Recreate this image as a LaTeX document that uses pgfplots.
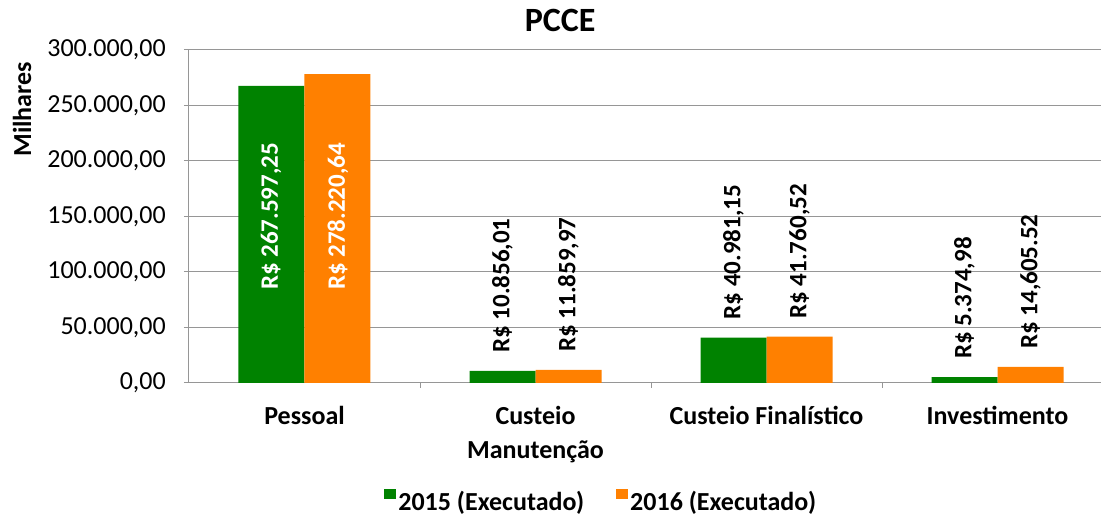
\documentclass[border=0pt]{standalone}
\usepackage{pgfplots}
\pgfplotsset{compat=1.18}
\usepackage{fontspec}
\setmainfont{Carlito}
\definecolor{g15}{RGB}{0,130,0}
\definecolor{o16}{RGB}{255,128,0}
\definecolor{gridc}{RGB}{150,150,150}
\begin{document}
\begin{tikzpicture}
\begin{axis}[
  name=ax,
  scale only axis,
  width=912pt, height=333pt,
  xmin=-0.5, xmax=3.448,
  ymin=0, ymax=300000,
  ybar=0pt, bar width=66pt,
  axis x line*=bottom, axis y line*=left,
  axis line style={gridc, line width=1pt, -},
  ymajorgrids, grid style={gridc, line width=1pt},
  ytick={0,50000,...,300000},
  scaled y ticks=false,
  /pgf/number format/fixed,
  /pgf/number format/fixed zerofill,
  /pgf/number format/precision=2,
  /pgf/number format/use comma,
  /pgf/number format/1000 sep={.},
  /pgf/number format/assume math mode=true,
  yticklabel style={font=\fontsize{26}{30}\selectfont, inner sep=0pt, anchor=east, xshift=-18pt},
  tick align=outside, major tick length=5pt,
  ytick style={draw=gridc, line width=1pt},
  xtick={0,1,2,3},
  xticklabels={Pessoal, Custeio\\Manutenção, Custeio Finalístico, Investimento},
  xticklabel style={font=\fontsize{26}{34}\selectfont\bfseries, align=center, inner sep=0pt, anchor=north, yshift=-18pt},
  xtick style={draw=none},
  extra x ticks={0.5,1.5,2.5},
  extra x tick labels={},
  extra x tick style={xtick style={draw=gridc, line width=1pt}},
  title={PCCE},
  title style={font=\fontsize{34}{40}\selectfont\bfseries, at={(axis description cs:0.407,1)}, anchor=base, yshift=12pt, inner sep=0pt},
  ylabel={Milhares},
  ylabel style={font=\fontsize{26}{30}\selectfont\bfseries, at={(axis description cs:-0.183,0.822)}, anchor=center, inner sep=0pt},
  legend style={draw=none, fill=none, at={(axis description cs:0.452,-0.355)}, anchor=center, legend columns=2,
    font=\fontsize{26}{30}\selectfont\bfseries, inner sep=0pt,
    /tikz/every even column/.append style={column sep=30pt}},
  legend image code/.code={\fill[#1, draw=none] (0pt,3pt) rectangle (12pt,13pt);},
  nodes near coords={\pgfplotspointmeta},
  point meta=explicit symbolic,
  nodes near coords style={font=\fontsize{25}{30}\selectfont\bfseries, black, rotate=90, anchor=west, inner sep=0pt, xshift=18pt},
  clip=false,
]
\addplot[fill=g15, draw=none] coordinates {
  (0,267597.25) []
  (1,10856.01) [R\$ 10.856,01]
  (2,40981.15) [R\$ 40.981,15]
  (3,5374.98) [R\$ 5.374,98]
};
\addplot[fill=o16, draw=none] coordinates {
  (0,278220.64) []
  (1,11859.97) [R\$ 11.859,97]
  (2,41760.52) [R\$ 41.760,52]
  (3,14605.52) [R\$ 14,605.52]
};
\legend{2015 (Executado), 2016 (Executado)}
\node[rotate=90, white, font=\fontsize{25}{30}\selectfont\bfseries, inner sep=0pt] at (axis cs:-0.145,150000) {R\$ 267.597,25};
\node[rotate=90, white, font=\fontsize{25}{30}\selectfont\bfseries, inner sep=0pt] at (axis cs:0.145,150000) {R\$ 278.220,64};
\end{axis}
\pgfresetboundingbox
\path[use as bounding box] ([xshift=-189pt,yshift=-135pt]ax.south west) rectangle ([yshift=50pt]ax.north east);
\end{tikzpicture}
\end{document}
